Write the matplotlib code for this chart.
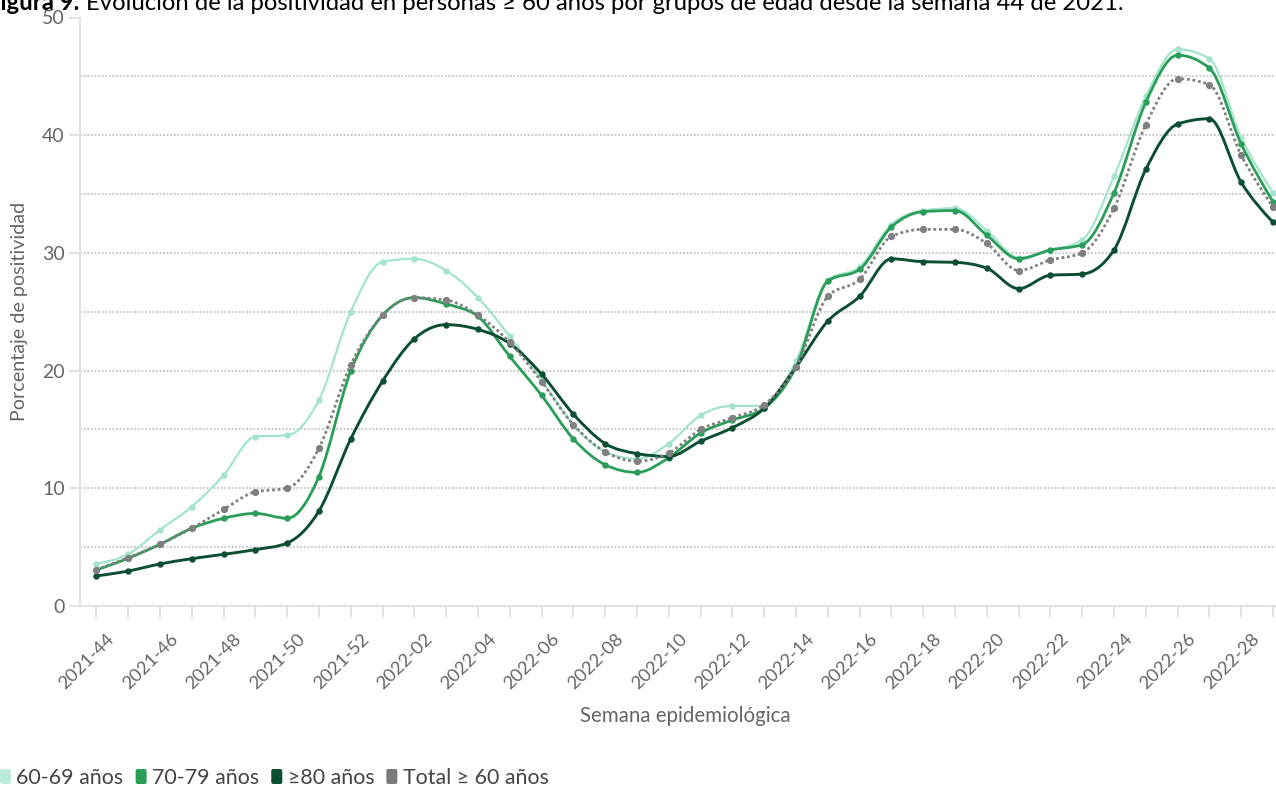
import numpy as np
import matplotlib
matplotlib.use('Agg')
import matplotlib.pyplot as plt
from matplotlib.path import Path
from matplotlib.patches import PathPatch, FancyBboxPatch
from matplotlib.transforms import ScaledTranslation, IdentityTransform

plt.rcParams['font.family'] = ['Lato', 'DejaVu Sans']

# semanas epidemiologicas (2021-44 .. 2022-29)
weeks = [f'2021-{w}' for w in range(44, 53)] + [f'2022-{w:02d}' for w in range(1, 30)]

# porcentaje de positividad por grupo de edad
pos_60_69 = [3.6, 4.4, 6.46, 8.44, 11.1, 14.4, 14.5, 17.5, 25.0, 29.25,
             29.5, 28.5, 26.2, 22.9, 19.2, 15.4, 13.1, 12.5, 13.8, 16.2,
             17.0, 17.0, 20.8, 27.7, 28.8, 32.4, 33.6, 33.8, 31.9, 29.6,
             30.2, 31.1, 36.5, 43.3, 47.3, 46.5, 39.8, 35.1]
pos_70_79 = [3.06, 4.05, 5.24, 6.6, 7.45, 7.87, 7.45, 11.0, 19.97, 24.7,
             26.2, 25.66, 24.6, 21.2, 17.9, 14.2, 12.0, 11.35, 12.6, 14.7,
             15.8, 16.8, 20.3, 27.6, 28.6, 32.2, 33.5, 33.6, 31.5, 29.5,
             30.25, 30.7, 35.1, 42.8, 46.8, 45.7, 39.25, 34.35]
pos_80 = [2.55, 2.97, 3.57, 4.02, 4.39, 4.79, 5.35, 8.07, 14.19, 19.1,
          22.7, 23.9, 23.5, 22.3, 19.7, 16.3, 13.8, 12.95, 12.7, 14.0,
          15.15, 16.8, 20.3, 24.2, 26.3, 29.5, 29.25, 29.2, 28.7, 26.96,
          28.1, 28.2, 30.25, 37.1, 40.95, 41.4, 36.0, 32.6]
pos_total = [3.1, 4.1, 5.24, 6.6, 8.2, 9.7, 10.0, 13.4, 20.5, 24.7,
             26.2, 26.0, 24.7, 22.4, 19.06, 15.4, 13.1, 12.3, 13.0, 15.0,
             16.0, 17.1, 20.3, 26.3, 27.75, 31.4, 32.0, 32.0, 30.8, 28.5,
             29.4, 30.0, 33.8, 40.9, 44.8, 44.3, 38.3, 33.9]

series_labels = ['60-69 años', '70-79 años', '\u226580 años', 'Total \u2265 60 años']
line_colors = ['#a3e4cc', '#2a9d58', '#0c4e32', '#808080']
legend_colors = ['#bdecdd', '#2a9d58', '#0c4e32', '#7a7a7a']


def monotone_path(xs, ys):
    # curva monotona (tipo d3 curveMonotoneX) como segmentos bezier
    xs = np.asarray(xs, float)
    ys = np.asarray(ys, float)
    h = np.diff(xs)
    s = np.diff(ys) / h
    m = np.zeros_like(ys)
    for i in range(1, len(ys) - 1):
        p = (s[i - 1] * h[i] + s[i] * h[i - 1]) / (h[i - 1] + h[i])
        m[i] = (np.sign(s[i - 1]) + np.sign(s[i])) * min(abs(s[i - 1]), abs(s[i]), 0.5 * abs(p))
    m[0] = (3 * s[0] - m[1]) / 2
    m[-1] = (3 * s[-1] - m[-2]) / 2
    verts = [(xs[0], ys[0])]
    codes = [Path.MOVETO]
    for i in range(len(xs) - 1):
        dx = (xs[i + 1] - xs[i]) / 3
        verts += [(xs[i] + dx, ys[i] + dx * m[i]),
                  (xs[i + 1] - dx, ys[i + 1] - dx * m[i + 1]),
                  (xs[i + 1], ys[i + 1])]
        codes += [Path.CURVE4] * 3
    return Path(verts, codes)


W, H = 1276, 787
fig = plt.figure(figsize=(W / 100, H / 100), dpi=100)
ax = fig.add_axes([80 / W, (H - 606) / H, 1196 / W, 588.5 / H])

x = np.arange(len(weeks))
ax.set_xlim(-0.513, 37.094)
ax.set_ylim(0, 50)

for gy in range(5, 50, 5):
    ax.axhline(gy, color='#c4c4c4', lw=1.3, ls=(0, (1, 1)), zorder=0)

data = [pos_60_69, pos_70_79, pos_80, pos_total]
widths = [1.6, 2.0, 2.1, 2.0]
for vals, col, lw, i in zip(data, line_colors, widths, range(4)):
    ls = (0, (1, 1)) if i == 3 else '-'
    ax.add_patch(PathPatch(monotone_path(x, vals), fill=False, ec=col, lw=lw,
                           ls=ls, zorder=3 + i))
    ax.plot(x, vals, ls='none', marker='o', ms=4.2 if i == 3 else 3.6,
            color=col, zorder=3 + i)

for side in ['top', 'right']:
    ax.spines[side].set_visible(False)
for side in ['left', 'bottom']:
    ax.spines[side].set_color('#e2e2e2')
    ax.spines[side].set_linewidth(1.5)

ax.set_yticks(range(0, 51, 10))
ax.set_xticks(x)
ax.set_xticklabels([w if i % 2 == 0 else '' for i, w in enumerate(weeks)],
                   rotation=45, ha='right', va='top', rotation_mode='anchor')
ax.tick_params(axis='both', colors='#e2e2e2', width=1.5, length=8, labelcolor='#666666')
ax.tick_params(axis='y', labelsize=14, pad=3)
ax.tick_params(axis='x', labelsize=13.2, pad=10)
shift = ScaledTranslation(7 / 72, 0, fig.dpi_scale_trans)
for lab in ax.get_xticklabels():
    lab.set_transform(lab.get_transform() + shift)

fig.text(20 / W, 1 - 311 / H, 'Porcentaje de positividad', rotation=90,
         ha='center', va='center', fontsize=14.2, color='#666666')
fig.text(685 / W, 1 - 716 / H, 'Semana epidemiológica',
         ha='center', va='center', fontsize=14.8, color='#666666')

r = fig.canvas.get_renderer()


def wpx(t):
    return t.get_window_extent(renderer=r).width


# titulo (recortado por el borde superior e izquierdo como en la figura original)
bold_txt = 'Figura 9.'
rest_txt = 'Evolución de la positividad en personas \u2265 60 años por grupos de edad desde la semana 44 de 2021.'
fs = 17.0
for _ in range(2):
    tf = fig.text(0, 0, 'F', fontsize=fs, weight='bold')
    tb = fig.text(0, 0, bold_txt, fontsize=fs, weight='bold')
    tr = fig.text(0, 0, rest_txt, fontsize=fs)
    wF, wb, wr = wpx(tf), wpx(tb), wpx(tr)
    for t in (tf, tb, tr):
        t.remove()
    space = 0.25 * fs * 100 / 72
    total = wb - wF + space + wr
    fs = fs * 1128 / total
base_y = 1 - 9.5 / H
fig.text((-wF + 1) / W, base_y, bold_txt, fontsize=fs, weight='bold',
         va='baseline', color='black')
fig.text((-wF + 1 + wb + space) / W, base_y, rest_txt, fontsize=fs,
         va='baseline', color='black')

# leyenda
lx = 0.0
for lab, col in zip(series_labels, legend_colors):
    fig.patches.append(FancyBboxPatch((lx, 787 - 784), 11, 15,
                                      boxstyle='round,pad=0,rounding_size=2',
                                      fc=col, ec='none', transform=IdentityTransform()))
    t = fig.text((lx + 16.5) / W, 1 - 776 / H, lab, fontsize=15.4, color='#444444',
                 va='center_baseline', ha='left')
    lx = lx + 16.5 + wpx(t) + 12

fig.savefig('out.png', dpi=100)
